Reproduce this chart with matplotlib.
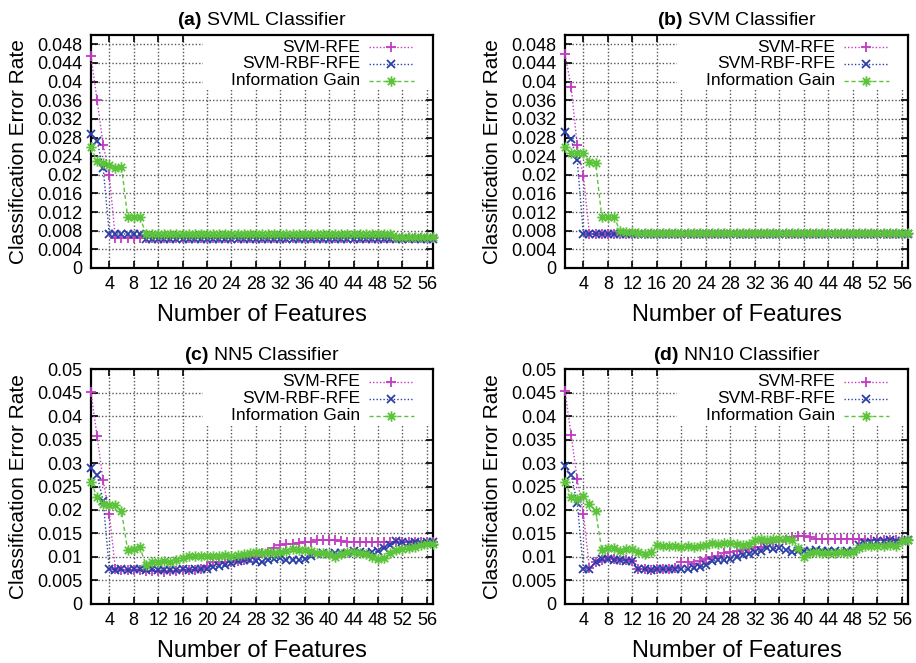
import matplotlib
matplotlib.use('Agg')
import matplotlib.pyplot as plt
from matplotlib.path import Path
from matplotlib.lines import Line2D
from matplotlib.patches import Rectangle
import numpy as np

plt.rcParams.update({
    'font.family': 'Liberation Sans',
    'mathtext.fontset': 'custom',
    'mathtext.rm': 'Liberation Sans',
    'mathtext.bf': 'Liberation Sans:bold',
    'axes.linewidth': 1.6,
})

features = np.arange(1, 58)

# ---- (a) SVML classifier ----
svm_rfe_a = [0.0455, 0.0360, 0.0265, 0.0199, 0.0064, 0.0064, 0.0064, 0.0064, 0.0064, 0.0064,
             0.0064, 0.0064, 0.0064, 0.0064, 0.0064, 0.0064, 0.0064, 0.0064, 0.0064, 0.0064,
             0.0064, 0.0064, 0.0064, 0.0064, 0.0064, 0.0064, 0.0064, 0.0064, 0.0064, 0.0064,
             0.0064, 0.0064, 0.0064, 0.0064, 0.0064, 0.0064, 0.0064, 0.0064, 0.0064, 0.0064,
             0.0064, 0.0064, 0.0064, 0.0064, 0.0064, 0.0064, 0.0064, 0.0064, 0.0064, 0.0064,
             0.0064, 0.0064, 0.0064, 0.0064, 0.0064, 0.0064, 0.0064]
rbf_rfe_a = [0.0288, 0.0272, 0.0215, 0.0073, 0.0073, 0.0073, 0.0073, 0.0073, 0.0073, 0.0062,
             0.0062, 0.0062, 0.0062, 0.0062, 0.0062, 0.0062, 0.0062, 0.0062, 0.0062, 0.0062,
             0.0062, 0.0062, 0.0062, 0.0062, 0.0062, 0.0062, 0.0062, 0.0062, 0.0062, 0.0062,
             0.0062, 0.0062, 0.0062, 0.0062, 0.0062, 0.0062, 0.0062, 0.0062, 0.0062, 0.0062,
             0.0062, 0.0062, 0.0062, 0.0062, 0.0062, 0.0062, 0.0062, 0.0062, 0.0062, 0.0062,
             0.0062, 0.0062, 0.0062, 0.0062, 0.0062, 0.0062, 0.0062]
info_gain_a = [0.0260, 0.0229, 0.0226, 0.0221, 0.0215, 0.0217, 0.0110, 0.0110, 0.0110, 0.0073,
               0.0073, 0.0073, 0.0073, 0.0073, 0.0073, 0.0073, 0.0073, 0.0073, 0.0073, 0.0073,
               0.0073, 0.0073, 0.0073, 0.0073, 0.0073, 0.0073, 0.0073, 0.0073, 0.0073, 0.0073,
               0.0073, 0.0073, 0.0073, 0.0073, 0.0073, 0.0073, 0.0073, 0.0073, 0.0073, 0.0073,
               0.0073, 0.0073, 0.0073, 0.0073, 0.0073, 0.0073, 0.0073, 0.0073, 0.0073, 0.0073,
               0.0066, 0.0066, 0.0066, 0.0066, 0.0066, 0.0066, 0.0066]

# ---- (b) SVM classifier ----
svm_rfe_b = [0.0459, 0.0389, 0.0263, 0.0198, 0.0073, 0.0073, 0.0073, 0.0073, 0.0073, 0.0073,
             0.0073, 0.0073, 0.0073, 0.0073, 0.0073, 0.0073, 0.0073, 0.0073, 0.0073, 0.0073,
             0.0073, 0.0073, 0.0073, 0.0073, 0.0073, 0.0073, 0.0073, 0.0073, 0.0073, 0.0073,
             0.0073, 0.0073, 0.0073, 0.0073, 0.0073, 0.0073, 0.0073, 0.0073, 0.0073, 0.0073,
             0.0073, 0.0073, 0.0073, 0.0073, 0.0073, 0.0073, 0.0073, 0.0073, 0.0073, 0.0073,
             0.0073, 0.0073, 0.0073, 0.0073, 0.0073, 0.0073, 0.0073]
rbf_rfe_b = [0.0292, 0.0276, 0.0231, 0.0073, 0.0073, 0.0073, 0.0073, 0.0073, 0.0073, 0.0073,
             0.0073, 0.0073, 0.0073, 0.0073, 0.0073, 0.0073, 0.0073, 0.0073, 0.0073, 0.0073,
             0.0073, 0.0073, 0.0073, 0.0073, 0.0073, 0.0073, 0.0073, 0.0073, 0.0073, 0.0073,
             0.0073, 0.0073, 0.0073, 0.0073, 0.0073, 0.0073, 0.0073, 0.0073, 0.0073, 0.0073,
             0.0073, 0.0073, 0.0073, 0.0073, 0.0073, 0.0073, 0.0073, 0.0073, 0.0073, 0.0073,
             0.0073, 0.0073, 0.0073, 0.0073, 0.0073, 0.0073, 0.0073]
info_gain_b = [0.0260, 0.0246, 0.0247, 0.0247, 0.0228, 0.0226, 0.0110, 0.0110, 0.0110, 0.0079,
               0.0077, 0.0077, 0.0075, 0.0075, 0.0075, 0.0075, 0.0075, 0.0075, 0.0075, 0.0075,
               0.0075, 0.0075, 0.0075, 0.0075, 0.0075, 0.0075, 0.0075, 0.0075, 0.0075, 0.0075,
               0.0075, 0.0075, 0.0075, 0.0075, 0.0075, 0.0075, 0.0075, 0.0075, 0.0075, 0.0075,
               0.0075, 0.0075, 0.0075, 0.0075, 0.0075, 0.0075, 0.0075, 0.0075, 0.0075, 0.0075,
               0.0075, 0.0075, 0.0075, 0.0075, 0.0075, 0.0075, 0.0075]

# ---- (c) NN5 classifier ----
svm_rfe_c = [0.0452, 0.0357, 0.0263, 0.0192, 0.0074, 0.0072, 0.0071, 0.0072, 0.0071, 0.0070,
             0.0070, 0.0070, 0.0068, 0.0070, 0.0070, 0.0071, 0.0072, 0.0072, 0.0073, 0.0081,
             0.0088, 0.0088, 0.0088, 0.0089, 0.0091, 0.0094, 0.0097, 0.0100, 0.0107, 0.0110,
             0.0118, 0.0125, 0.0128, 0.0128, 0.0130, 0.0131, 0.0131, 0.0135, 0.0135, 0.0135,
             0.0135, 0.0134, 0.0132, 0.0132, 0.0132, 0.0132, 0.0132, 0.0132, 0.0132, 0.0132,
             0.0132, 0.0132, 0.0132, 0.0132, 0.0132, 0.0132, 0.0132]
rbf_rfe_c = [0.0290, 0.0274, 0.0220, 0.0073, 0.0072, 0.0073, 0.0072, 0.0074, 0.0073, 0.0072,
             0.0073, 0.0072, 0.0071, 0.0072, 0.0072, 0.0073, 0.0072, 0.0073, 0.0073, 0.0074,
             0.0078, 0.0080, 0.0082, 0.0086, 0.0090, 0.0093, 0.0092, 0.0090, 0.0088, 0.0093,
             0.0096, 0.0097, 0.0094, 0.0093, 0.0092, 0.0095, 0.0102, 0.0106, 0.0107, 0.0105,
             0.0107, 0.0108, 0.0109, 0.0112, 0.0110, 0.0108, 0.0110, 0.0112, 0.0118, 0.0126,
             0.0133, 0.0131, 0.0129, 0.0131, 0.0130, 0.0131, 0.0132]
info_gain_c = [0.0260, 0.0228, 0.0213, 0.0211, 0.0211, 0.0198, 0.0114, 0.0117, 0.0120, 0.0083,
               0.0088, 0.0089, 0.0090, 0.0089, 0.0093, 0.0098, 0.0101, 0.0101, 0.0102, 0.0101,
               0.0102, 0.0101, 0.0103, 0.0102, 0.0104, 0.0106, 0.0107, 0.0110, 0.0108, 0.0111,
               0.0109, 0.0110, 0.0113, 0.0116, 0.0114, 0.0115, 0.0112, 0.0108, 0.0107, 0.0106,
               0.0100, 0.0106, 0.0110, 0.0111, 0.0109, 0.0106, 0.0100, 0.0096, 0.0098, 0.0107,
               0.0114, 0.0117, 0.0118, 0.0121, 0.0124, 0.0127, 0.0128]

# ---- (d) NN10 classifier ----
svm_rfe_d = [0.0455, 0.0360, 0.0265, 0.0192, 0.0075, 0.0088, 0.0093, 0.0099, 0.0095, 0.0093,
             0.0093, 0.0090, 0.0073, 0.0073, 0.0072, 0.0073, 0.0074, 0.0074, 0.0075, 0.0088,
             0.0088, 0.0085, 0.0090, 0.0095, 0.0100, 0.0101, 0.0108, 0.0110, 0.0112, 0.0114,
             0.0117, 0.0120, 0.0121, 0.0130, 0.0132, 0.0133, 0.0135, 0.0143, 0.0144, 0.0144,
             0.0142, 0.0138, 0.0137, 0.0137, 0.0137, 0.0137, 0.0137, 0.0137, 0.0137, 0.0136,
             0.0135, 0.0135, 0.0135, 0.0135, 0.0135, 0.0135, 0.0135]
rbf_rfe_d = [0.0293, 0.0275, 0.0215, 0.0073, 0.0073, 0.0088, 0.0095, 0.0095, 0.0093, 0.0093,
             0.0090, 0.0090, 0.0073, 0.0073, 0.0072, 0.0073, 0.0073, 0.0073, 0.0073, 0.0074,
             0.0073, 0.0075, 0.0078, 0.0082, 0.0090, 0.0093, 0.0093, 0.0095, 0.0100, 0.0103,
             0.0105, 0.0110, 0.0113, 0.0118, 0.0117, 0.0118, 0.0115, 0.0110, 0.0112, 0.0113,
             0.0113, 0.0115, 0.0113, 0.0112, 0.0113, 0.0110, 0.0112, 0.0112, 0.0125, 0.0130,
             0.0132, 0.0134, 0.0134, 0.0135, 0.0134, 0.0134, 0.0135]
info_gain_d = [0.0260, 0.0228, 0.0223, 0.0230, 0.0212, 0.0198, 0.0115, 0.0118, 0.0118, 0.0112,
               0.0117, 0.0117, 0.0110, 0.0106, 0.0111, 0.0124, 0.0123, 0.0122, 0.0123, 0.0121,
               0.0122, 0.0121, 0.0122, 0.0126, 0.0129, 0.0128, 0.0130, 0.0129, 0.0127, 0.0124,
               0.0128, 0.0136, 0.0137, 0.0136, 0.0137, 0.0138, 0.0137, 0.0136, 0.0118, 0.0100,
               0.0108, 0.0110, 0.0108, 0.0109, 0.0108, 0.0110, 0.0108, 0.0111, 0.0118, 0.0122,
               0.0123, 0.0122, 0.0122, 0.0124, 0.0122, 0.0133, 0.0135]

x_ticks = [4, 8, 12, 16, 20, 24, 28, 32, 36, 40, 44, 48, 52, 56]
y_ticks_svm = [0, 0.004, 0.008, 0.012, 0.016, 0.02, 0.024, 0.028, 0.032, 0.036, 0.04, 0.044, 0.048]
y_labels_svm = ['0', '0.004', '0.008', '0.012', '0.016', '0.02', '0.024', '0.028', '0.032',
                '0.036', '0.04', '0.044', '0.048']
y_ticks_nn = [0, 0.005, 0.01, 0.015, 0.02, 0.025, 0.03, 0.035, 0.04, 0.045, 0.05]
y_labels_nn = ['0', '0.005', '0.01', '0.015', '0.02', '0.025', '0.03', '0.035', '0.04', '0.045', '0.05']

method_names = ['SVM-RFE', 'SVM-RBF-RFE', 'Information Gain']
colors = ['#c03cc0', '#2b3ea8', '#5cc43a']

# gnuplot-style asterisk: plus and cross drawn together
M, L = Path.MOVETO, Path.LINETO
asterisk = Path([(-1, 0), (1, 0), (0, -1), (0, 1), (-0.7, -0.7), (0.7, 0.7), (-0.7, 0.7), (0.7, -0.7)],
                [M, L, M, L, M, L, M, L])
markers = ['+', 'x', asterisk]
msizes = [7, 6, 7.5]
linestyles = [(0, (1, 1.5)), (0, (1, 1.5)), (0, (3, 2))]

panels = [
    ('(a)', 'SVML Classifier', [svm_rfe_a, rbf_rfe_a, info_gain_a], y_ticks_svm, y_labels_svm),
    ('(b)', 'SVM Classifier', [svm_rfe_b, rbf_rfe_b, info_gain_b], y_ticks_svm, y_labels_svm),
    ('(c)', 'NN5 Classifier', [svm_rfe_c, rbf_rfe_c, info_gain_c], y_ticks_nn, y_labels_nn),
    ('(d)', 'NN10 Classifier', [svm_rfe_d, rbf_rfe_d, info_gain_d], y_ticks_nn, y_labels_nn),
]

fig = plt.figure(figsize=(9.16, 6.63), dpi=100)
positions = [
    [0.0993, 0.5958, 0.3734, 0.3514],
    [0.6168, 0.5958, 0.3745, 0.3514],
    [0.0993, 0.0897, 0.3734, 0.3530],
    [0.6168, 0.0897, 0.3745, 0.3530],
]

for pos, (tag, name, series, yt, yl) in zip(positions, panels):
    ax = fig.add_axes(pos)
    ax.set_xlim(1, 57)
    ax.set_ylim(0, 0.05)
    ax.set_xticks(x_ticks)
    ax.set_yticks(yt)
    ax.set_yticklabels(yl)
    ax.tick_params(direction='in', length=5, width=1.2, top=True, right=True,
                   labelsize=13, pad=6)
    ax.grid(True, color='#555555', linestyle=(0, (1, 1.5)), linewidth=1.0, zorder=0)
    ax.set_axisbelow(True)

    for vals, c, m, ms, ls in zip(series, colors, markers, msizes, linestyles):
        ax.plot(features, vals, color=c, linestyle=ls, linewidth=1.0,
                marker=m, markersize=ms, markeredgewidth=1.3, fillstyle='none',
                zorder=3, clip_on=False)

    # legend block: white panel over the grid, labels right-aligned, samples on the right
    ax.add_patch(Rectangle((0.327, 0.766), 0.673, 0.234, transform=ax.transAxes,
                           facecolor='white', edgecolor='none', zorder=1))
    rows = [0.947, 0.876, 0.803]
    for y, lbl, c, m, ms, ls in zip(rows, method_names, colors, markers, msizes, linestyles):
        ax.text(0.787, y, lbl, transform=ax.transAxes, ha='right', va='center',
                fontsize=12.5, zorder=4)
        ax.add_line(Line2D([0.813, 0.944], [y, y], transform=ax.transAxes, color=c,
                           linestyle=ls, linewidth=1.0, zorder=4))
        ax.add_line(Line2D([0.8785], [y], transform=ax.transAxes, color=c, marker=m,
                           markersize=ms, markeredgewidth=1.3, fillstyle='none', zorder=4))

    ax.set_title(r'$\bf{' + tag + '}$ ' + name, fontsize=14, pad=7)
    ax.set_xlabel('Number of Features', fontsize=17, labelpad=8)
    ax.set_ylabel('Classification Error Rate', fontsize=15, labelpad=7)

plt.savefig('out.png', dpi=100)
